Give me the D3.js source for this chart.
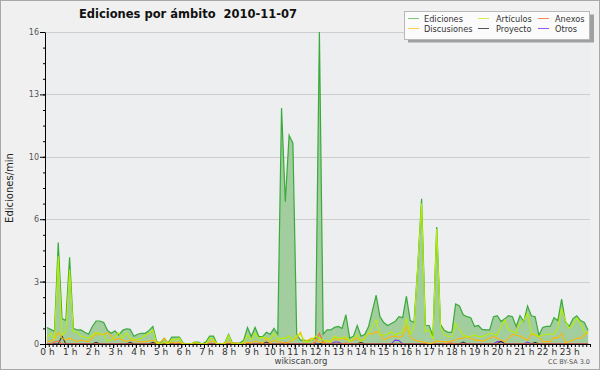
<!DOCTYPE html>
<html>
<head>
<meta charset="utf-8">
<script src="https://cdn.jsdelivr.net/npm/d3@7"></script>
<style>
  body { margin: 0; background: #f0f0f0; }
  svg text { font-family: "DejaVu Sans", sans-serif; }
</style>
</head>
<body>
<svg id="chart" width="600" height="370"></svg>
<script>
// values per 10 minutes, 2010-11-07 (edits/min)
var ediciones = [
  0.85,0.75,0.65,5.2,1.3,1.2,4.45,0.8,0.72,0.72,0.6,0.5,
  0.9,1.18,1.18,1.1,0.7,0.55,0.68,0.46,0.7,0.78,0.75,0.4,
  0.5,0.55,0.55,0.7,0.9,0.12,0.05,0.3,0.05,0.35,0.35,0.35,
  0.05,0,0,0.1,0.1,0,0.1,0.4,0.4,0,0,0.05,
  0.5,0.05,0.05,0.05,0.2,0.85,0.38,0.85,0.38,0.38,0.6,0.5,
  0.8,0.5,12.1,7.3,10.7,10.3,0.5,0.2,0.2,0.15,0.2,0.3,
  16,0.5,0.72,0.72,0.85,0.9,0.8,1.5,0.3,0.4,0.95,0.4,
  0.5,0.9,1.7,2.5,1.4,1.1,0.95,1.05,1.15,1.4,1.35,2.45,
  1.2,1.1,4.0,7.45,0.95,0.95,0.4,6.0,1.0,0.7,0.6,0.6,
  2.05,1.95,1.5,1.4,1.35,0.9,0.95,0.75,0.72,0.72,1.4,1.45,
  1.15,1.3,1.45,1.4,0.9,1.45,1.15,1.95,1.45,1.4,0.45,0.85,
  0.9,0.9,1.35,1.2,2.3,1.15,0.9,1.3,1.45,1.2,1.1,0.7
];
var articulos = [
  0.3,0.55,0.25,4.5,0.45,0.63,3.8,0.63,0.6,0.4,0.35,0.3,
  0.45,0.58,0.55,0.46,0.12,0.2,0.38,0.58,0.29,0.58,0.3,0.24,
  0.25,0.29,0.46,0.55,0.72,0.05,0,0.1,0,0.25,0.2,0.3,
  0,0,0,0.1,0.05,0,0,0.3,0.25,0,0,0,
  0.45,0,0,0,0.1,0.46,0.2,0.55,0.29,0.35,0.3,0.24,
  0.55,0.2,0.3,0.29,0.41,0.2,0.45,0.5,0.15,0.1,0.2,0.4,
  0.3,0.2,0.15,0.15,0.4,0.3,0.3,0.38,0.12,0.3,0.46,0.12,
  0.3,0.55,0.9,1.26,0.46,0.46,0.5,0.63,0.46,0.55,0.6,1.32,
  0.5,0.88,4.0,7.2,0.63,0.72,0.24,5.9,0.89,0.46,0.4,0.38,
  1.06,0.72,0.46,0.38,0.4,0.46,0.38,0.38,0.45,0.55,0.5,0.46,
  0.9,1.23,0.72,0.65,0.55,1.06,1.2,1.57,0.55,0.5,0.38,0.45,
  0.5,0.5,0.5,0.8,1.83,1.2,0.8,1.0,1.32,1.06,0.63,0.55
];
var discusiones = [
  0.12,0.15,0.25,0.6,0.3,0.2,0.3,0.2,0.12,0.2,0.15,0.12,
  0.3,0.55,0.46,0.5,0.58,0.41,0.2,0.29,0.2,0.12,0.2,0.2,
  0.12,0.1,0.12,0.15,0.2,0.05,0.1,0.29,0.05,0.1,0.05,0.1,
  0,0,0,0,0,0,0,0.1,0.15,0,0,0.05,
  0.1,0.05,0.05,0,0,0.1,0.05,0.15,0.1,0.05,0.3,0.05,
  0.2,0.1,0.1,0.05,0.1,0.2,0.3,0.6,0.1,0.2,0.3,0.2,
  0.1,0.05,0.15,0.1,0.3,0.2,0.3,0.25,0.15,0.2,0.3,0.15,
  0.3,0.55,0.5,0.63,0.55,0.2,0.3,0.38,0.41,0.35,0.41,0.92,
  0.38,0.2,0.15,0.12,0.08,0.03,0.05,0.17,0.12,0.12,0.1,0.15,
  0.2,0.29,0.3,0.38,0.3,0.2,0.2,0.15,0.2,0.3,0.38,0.29,
  0.2,0.12,0.3,0.5,0.45,0.41,0.3,0.2,0.5,0.45,0.38,0.12,
  0.12,0.12,0.34,0.3,0.55,0.07,0.12,0.2,0.29,0.3,0.45,0.63
];
var anexos = [
  0,0,0.1,0.15,0,0,0,0,0,0,0,0,
  0,0,0,0,0,0,0,0,0,0,0,0,
  0,0,0,0,0,0,0,0,0,0,0,0,
  0,0,0,0,0,0,0,0,0,0,0,0,
  0,0,0,0,0,0,0,0,0,0,0,0,
  0,0,0,0,0,0,0,0,0,0,0,0.1,
  0.55,0.1,0,0,0,0,0,0.05,0,0,0,0,
  0,0,0,0,0,0,0,0,0,0,0,0,
  0,0,0,0,0,0,0,0,0,0,0.05,0.05,
  0,0,0,0,0,0,0,0,0,0,0,0,
  0,0,0,0,0,0,0,0,0,0,0,0,
  0,0,0,0,0,0,0,0,0,0,0,0
];
var proyecto = [
  0,0,0,0,0.4,0,0,0,0,0,0,0,
  0,0.08,0,0,0,0,0,0,0,0,0.08,0,
  0,0,0,0,0.08,0,0,0,0,0,0,0,
  0,0,0,0,0,0,0,0,0,0,0,0,
  0,0,0,0,0,0,0,0,0,0,0.1,0,
  0,0,0,0,0,0,0,0,0,0,0,0,
  0,0.08,0,0,0,0,0,0,0,0,0,0.08,
  0,0,0,0,0,0,0,0,0,0,0,0,
  0,0,0,0,0,0,0,0,0,0,0,0,
  0,0,0.1,0,0,0,0,0,0,0,0,0,
  0.15,0,0,0,0,0,0,0,0,0.08,0,0,
  0,0,0,0,0,0,0,0,0,0,0,0
];
var otros = [
  0,0,0,0,0,0,0,0,0,0,0,0,
  0,0,0,0,0,0,0,0,0,0,0,0,
  0,0,0,0,0,0,0,0,0,0,0,0,
  0,0,0,0,0,0,0,0,0,0,0,0,
  0,0,0,0,0,0,0,0,0,0,0,0,
  0,0,0,0.08,0,0,0,0,0,0,0,0,
  0,0,0,0,0.1,0.1,0,0,0,0,0,0,
  0,0,0,0,0,0,0,0,0.2,0.18,0,0,
  0,0,0,0,0,0,0,0,0,0,0,0,
  0,0,0,0,0,0,0,0,0,0,0,0.12,
  0.12,0,0,0,0,0,0,0.1,0,0,0,0,
  0,0,0,0,0,0,0,0,0,0,0,0
];

var hourLabels = ["0 h","1 h","2 h","3 h","4 h","5 h","6 h","7 h","8 h","9 h","10 h","11 h",
                  "12 h","13 h","14 h","15 h","16 h","17 h","18 h","19 h","20 h","21 h","22 h","23 h"];
var yTickValues = [0, 3.2, 6.4, 9.6, 12.8, 16];
var yTickLabels = ["0", "3", "6", "10", "13", "16"];

var legendNames  = ["Ediciones", "Artículos", "Anexos", "Discusiones", "Proyecto", "Otros"];
var legendColors = ["#7ccc7c", "#ccee55", "#ff8855", "#ffcc44", "#555555", "#9955ee"];

var svg = d3.select("#chart");
var margin = {left: 45, right: 10, top: 32, bottom: 26};
var W = 600, H = 370;

var x = d3.scaleLinear().domain([0, 1440]).range([margin.left, W - margin.right]);
var y = d3.scaleLinear().domain([0, 16]).range([H - margin.bottom, margin.top]);

// background + frame
svg.append("rect").attr("x", 0).attr("y", 0).attr("width", W).attr("height", H).attr("fill", "#f0f0f0");
svg.append("rect").attr("x", margin.left).attr("y", margin.top)
  .attr("width", x.range()[1] - margin.left).attr("height", y(0) - margin.top)
  .attr("fill", "#eceef0");
svg.append("rect").attr("x", 0.5).attr("y", 0.5).attr("width", W - 1).attr("height", H - 1)
  .attr("fill", "none").attr("stroke", "#a8a8a8");

// grid
svg.append("g").selectAll("line").data(yTickValues.slice(1)).enter().append("line")
  .attr("x1", margin.left).attr("x2", x.range()[1])
  .attr("y1", function(d) { return Math.round(y(d)) + 0.5; })
  .attr("y2", function(d) { return Math.round(y(d)) + 0.5; })
  .attr("stroke", "#cdcdcd");

function tx(d, i) { return x(i * 10 + 5); }

var area = d3.area().x(tx).y0(y(0)).y1(function(d) { return y(d); });
var line = d3.line().x(tx).y(function(d) { return y(d); });

var plot = svg.append("g");
plot.append("path").datum(ediciones).attr("d", area).attr("fill", "#a2cd9f");

var series = [
  {data: otros, color: "#8833ee"},
  {data: proyecto, color: "#333333"},
  {data: anexos, color: "#ff6633"},
  {data: discusiones, color: "#ffb800"},
  {data: articulos, color: "#b8ee00"}
];
plot.append("path").datum(ediciones).attr("d", line)
  .attr("fill", "none").attr("stroke", "#3aaa3a").attr("stroke-width", 1.2);
series.forEach(function(s) {
  plot.append("path").datum(s.data).attr("d", line)
    .attr("fill", "none").attr("stroke", s.color).attr("stroke-width", 1.1);
});

// y axis
var yAxis = svg.append("g").attr("transform", "translate(" + margin.left + ",0)")
  .call(d3.axisLeft(y).tickValues(yTickValues).tickSize(5).tickSizeOuter(0).tickPadding(1)
    .tickFormat(function(d, i) { return yTickLabels[i]; }));
svg.append("g").attr("transform", "translate(" + margin.left + ",0)")
  .call(d3.axisLeft(y).tickValues(d3.range(0, 16.01, 0.8)).tickSize(2).tickSizeOuter(0).tickFormat(""))
  .select(".domain").remove();
yAxis.selectAll("text").attr("font-size", 8).attr("fill", "#555")
  .attr("font-family", "DejaVu Sans, sans-serif");

// x axis
var xAxis = svg.append("g").attr("transform", "translate(0," + y(0) + ")")
  .call(d3.axisBottom(x).tickValues(d3.range(0, 1440, 60)).tickSize(4).tickSizeOuter(0).tickPadding(1)
    .tickFormat(function(d, i) { return hourLabels[i]; }));
svg.append("g").attr("transform", "translate(0," + y(0) + ")")
  .call(d3.axisBottom(x).tickValues(d3.range(0, 1441, 10)).tickSize(3).tickSizeOuter(0).tickFormat(""))
  .select(".domain").remove();
xAxis.selectAll("text").attr("font-size", 9).attr("fill", "#333").attr("dx", 2)
  .attr("font-family", "DejaVu Sans, sans-serif");
svg.selectAll(".domain").attr("stroke", "#000");

// titles
svg.append("text").attr("x", 188).attr("y", 18).attr("text-anchor", "middle")
  .attr("font-size", 11.5).attr("font-weight", "bold").attr("fill", "#111")
  .style("white-space", "pre").attr("xml:space", "preserve")
  .text("Ediciones por ámbito  2010-11-07");
svg.append("text").attr("transform", "translate(13,188) rotate(-90)").attr("text-anchor", "middle")
  .attr("font-family", "DejaVu Sans Mono, monospace").attr("font-size", 10).attr("fill", "#222")
  .text("Ediciones/min");
svg.append("text").attr("x", 301).attr("y", 364).attr("text-anchor", "middle")
  .attr("font-size", 8.5).attr("fill", "#444").text("wikiscan.org");
svg.append("text").attr("x", 590).attr("y", 364).attr("text-anchor", "end")
  .attr("font-size", 6.5).attr("fill", "#555").text("CC BY-SA 3.0");

// legend
var lg = svg.append("g");
lg.append("rect").attr("x", 408).attr("y", 14.5).attr("width", 186).attr("height", 28).attr("fill", "#a0a0a0");
lg.append("rect").attr("x", 404.5).attr("y", 11.5).attr("width", 185).attr("height", 28)
  .attr("fill", "#fbfbfb").attr("stroke", "#b8b8b8");
var colX = [408, 478, 538], textX = [424, 496, 555], rowY = [18.5, 28.5];
legendNames.forEach(function(name, i) {
  var c = i % 3, r = Math.floor(i / 3);
  lg.append("line").attr("x1", colX[c]).attr("x2", colX[c] + 11)
    .attr("y1", rowY[r]).attr("y2", rowY[r]).attr("stroke", legendColors[i]);
  lg.append("text").attr("x", textX[c]).attr("y", rowY[r] + 3)
    .attr("font-family", "DejaVu Sans Mono, monospace").attr("font-size", 8.2).attr("fill", "#333")
    .text(name);
});
</script>
</body>
</html>
